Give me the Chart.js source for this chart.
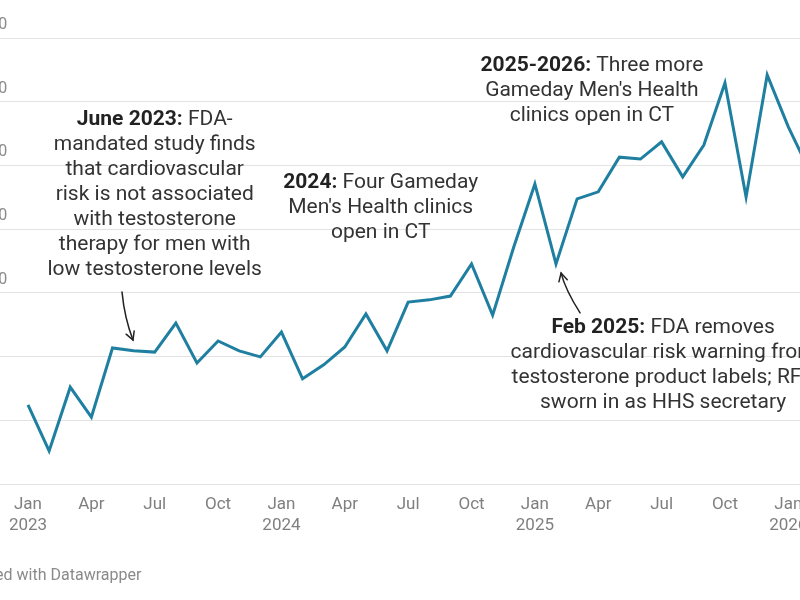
<!DOCTYPE html>
<html>
<head>
<meta charset="utf-8">
<script src="https://cdn.jsdelivr.net/npm/chart.js@4"></script>
<style>
  html, body { margin: 0; padding: 0; width: 800px; height: 600px; overflow: hidden; background: #fff; }
  #wrap { position: absolute; left: -40px; top: 0; width: 900px; height: 600px; }
  #footer { position: absolute; left: -43px; top: 565px; font: 16px Roboto, sans-serif; color: #8a8a8a; white-space: nowrap; }
</style>
</head>
<body>
<div id="wrap"><canvas id="c" width="900" height="600"></canvas></div>
<div id="footer">Created with Datawrapper</div>
<script>
// month index 0 = Jan 2023
const months = ["Jan","Feb","Mar","Apr","May","Jun","Jul","Aug","Sep","Oct","Nov","Dec"];
const startYear = 2023;
const values = [
  648, 504, 704, 610, 827, 818, 814, 905, 780, 849, 818, 799,   // 2023
  877, 730, 774, 830, 934, 818, 971, 978, 990, 1091, 930, 1144, // 2024
  1342, 1091, 1295, 1317, 1426, 1420, 1474, 1364, 1464, 1659, 1301, 1684, // 2025
  1521, 1383 // 2026
];
const yTicks = [400, 600, 800, 1000, 1200, 1400, 1600, 1800];
const xTickMonths = [0, 3, 6, 9, 12, 15, 18, 21, 24, 27, 30, 33, 36];

const annotations = [
  { x: 6.0, y: 1543, lines: [["June 2023:", " FDA-"], ["", "mandated study finds"], ["", "that cardiovascular"], ["", "risk is not associated"], ["", "with testosterone"], ["", "therapy for men with"], ["", "low testosterone levels"]] },
  { x: 16.7, y: 1345, lines: [["2024:", " Four Gameday"], ["", "Men's Health clinics"], ["", "open in CT"]] },
  { x: 26.7, y: 1712, lines: [["2025-2026:", " Three more"], ["", "Gameday Men's Health"], ["", "clinics open in CT"]] },
  { x: 30.07, y: 890, lines: [["Feb 2025:", " FDA removes"], ["", "cardiovascular risk warning from"], ["", "testosterone product labels; RFK"], ["", "sworn in as HHS secretary"]] }
];
const arrows = [
  { from: [4.45, 1003], ctrl: [4.57, 921], to: [4.97, 852] },
  { from: [26.14, 937], ctrl: [25.45, 1009], to: [25.24, 1062] }
];

const XMIN = -68 / 21.12, XMAX = (900 - 68) / 21.12;
const points = values.map((v, i) => ({ x: i, y: v }));

const annotationPlugin = {
  id: 'notes',
  afterDatasetsDraw(chart) {
    const ctx = chart.ctx;
    const xs = chart.scales.x, ys = chart.scales.y;
    ctx.save();
    const fs = 21, lh = 25;
    ctx.textBaseline = 'middle';
    annotations.forEach(a => {
      const cx = xs.getPixelForValue(a.x);
      let cy = ys.getPixelForValue(a.y);
      a.lines.forEach(([b, r]) => {
        ctx.font = `bold ${fs}px Roboto`;
        const wb = ctx.measureText(b).width;
        ctx.font = `${fs}px Roboto`;
        const wr = ctx.measureText(r).width;
        let x0 = cx - (wb + wr) / 2;
        ctx.textAlign = 'left';
        if (b) { ctx.font = `bold ${fs}px Roboto`; ctx.fillStyle = '#222'; ctx.fillText(b, x0, cy); }
        ctx.font = `${fs}px Roboto`; ctx.fillStyle = '#333';
        ctx.fillText(r, x0 + wb, cy);
        cy += lh;
      });
    });
    ctx.strokeStyle = '#222';
    ctx.lineWidth = 1.5;
    ctx.lineCap = 'round';
    arrows.forEach(a => {
      const p0 = [xs.getPixelForValue(a.from[0]), ys.getPixelForValue(a.from[1])];
      const pc = [xs.getPixelForValue(a.ctrl[0]), ys.getPixelForValue(a.ctrl[1])];
      const p1 = [xs.getPixelForValue(a.to[0]), ys.getPixelForValue(a.to[1])];
      ctx.beginPath();
      ctx.moveTo(p0[0], p0[1]);
      ctx.quadraticCurveTo(pc[0], pc[1], p1[0], p1[1]);
      ctx.stroke();
      const ang = Math.atan2(p1[1] - pc[1], p1[0] - pc[0]);
      const L = 9, spread = 0.5;
      ctx.beginPath();
      ctx.moveTo(p1[0] - L * Math.cos(ang - spread), p1[1] - L * Math.sin(ang - spread));
      ctx.lineTo(p1[0], p1[1]);
      ctx.lineTo(p1[0] - L * Math.cos(ang + spread), p1[1] - L * Math.sin(ang + spread));
      ctx.stroke();
    });
    ctx.restore();
  }
};

new Chart(document.getElementById('c'), {
  type: 'line',
  data: {
    datasets: [{
      data: points,
      borderColor: '#1f7fa0',
      borderWidth: 3,
      pointRadius: 0,
      tension: 0,
      fill: false
    }]
  },
  options: {
    responsive: false,
    animation: false,
    events: [],
    layout: { padding: { top: 38, left: 0, right: 0, bottom: 0 } },
    plugins: { legend: { display: false }, tooltip: { enabled: false } },
    scales: {
      x: {
        type: 'linear',
        min: XMIN,
        max: XMAX,
        bounds: 'data',
        grid: { display: false },
        border: { display: false },
        afterBuildTicks: s => { s.ticks = xTickMonths.map(v => ({ value: v })); s.min = XMIN; s.max = XMAX; },
        afterFit: s => { s.height = 116; s.paddingLeft = 0; s.paddingRight = 0; },
        ticks: {
          autoSkip: false, maxRotation: 0, padding: 3,
          color: '#7f7f7f',
          font: { family: 'Roboto', size: 17, lineHeight: 1.2 },
          callback: v => {
            const m = months[((v % 12) + 12) % 12];
            return (v % 12 === 0) ? [m, String(startYear + v / 12)] : m;
          }
        }
      },
      y: {
        min: yTicks[0],
        max: yTicks[yTicks.length - 1],
        afterBuildTicks: s => { s.ticks = yTicks.map(v => ({ value: v })); },
        afterFit: s => { s.width = 0; },
        grid: { color: '#e3e3e3', lineWidth: 1, drawTicks: false },
        border: { display: false },
        ticks: {
          mirror: true, padding: 8, labelOffset: -13,
          color: '#8a8a8a',
          font: { family: 'Roboto', size: 16 },
          callback: v => v === yTicks[0] ? '' : v.toLocaleString('en-US')
        }
      }
    }
  },
  plugins: [annotationPlugin]
});
</script>
</body>
</html>
